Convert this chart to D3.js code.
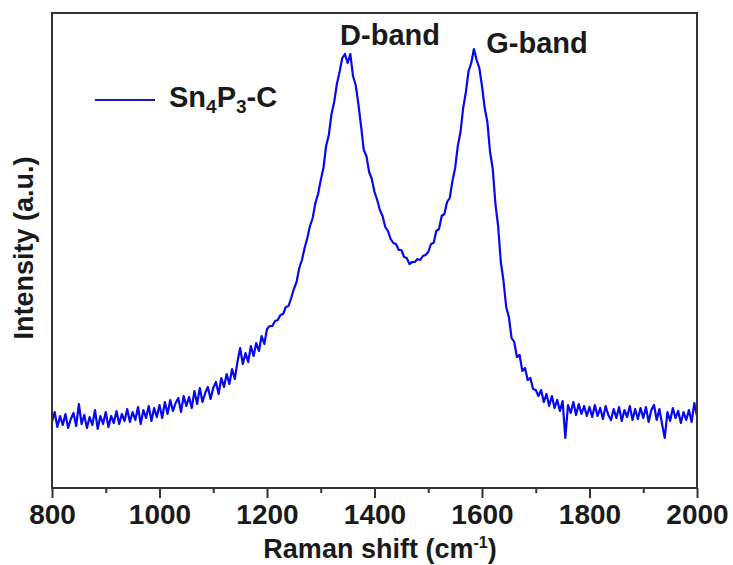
<!DOCTYPE html>
<html>
<head>
<meta charset="utf-8">
<script src="https://cdn.jsdelivr.net/npm/d3@7"></script>
<style>
  body { margin: 0; background: #fff; }
  text { font-family: Arial, "Liberation Sans", sans-serif; font-weight: bold; fill: #1a1a1a; }
</style>
</head>
<body>
<div id="chart"></div>
<script>
// Raman spectrum of Sn4P3-C (step 5 cm-1)
const shiftStart = 800;
const shiftStep = 5;
const intensity = [
  // 800 - 895
  66, 76, 61, 72, 63, 74, 60, 69, 75, 62, 84, 64, 73, 60, 71, 63, 78, 59, 72, 64,
  // 900 - 995
  76, 61, 72, 65, 77, 64, 74, 67, 79, 66, 76, 68, 81, 64, 78, 70, 82, 67, 80, 71,
  // 1000 - 1095
  83, 70, 86, 74, 88, 77, 85, 90, 76, 92, 82, 91, 80, 97, 84, 100, 86, 95, 101, 89,
  // 1100 - 1195
  100, 106, 94, 110, 101, 114, 104, 119, 109, 126, 140, 124, 135, 126, 142, 132, 145, 137, 152, 144,
  // 1200 - 1295
  159, 162, 162, 167, 168, 173, 174, 181, 182, 190, 199, 206, 220, 228, 240, 250, 262, 270, 285, 294,
  // 1300 - 1395
  308, 320, 342, 353, 374, 386, 404, 416, 430, 434, 425, 434, 412, 403, 384, 362, 338, 332, 316, 309,
  // 1400 - 1495
  296, 288, 278, 272, 261, 257, 249, 245, 244, 238, 238, 231, 230, 224, 226, 226, 229, 228, 232, 233,
  // 1500 - 1595
  236, 244, 245, 257, 259, 272, 274, 286, 290, 307, 320, 342, 356, 380, 396, 417, 425, 439, 428, 420,
  // 1600 - 1695
  402, 380, 366, 336, 319, 284, 262, 226, 207, 181, 171, 150, 146, 131, 133, 117, 120, 108, 110, 99,
  // 1700 - 1795
  98, 92, 98, 86, 94, 82, 92, 80, 88, 77, 87, 50, 83, 75, 86, 73, 84, 74, 82, 72,
  // 1800 - 1895
  81, 71, 83, 72, 80, 69, 82, 73, 68, 79, 70, 81, 67, 78, 71, 82, 68, 79, 69, 80,
  // 1900 - 2000
  70, 81, 66, 78, 83, 68, 79, 64, 50, 76, 67, 80, 70, 77, 65, 76, 68, 78, 66, 85, 72
];
const majorTicks = [800, 1000, 1200, 1400, 1600, 1800, 2000];
const minorTicks = [900, 1100, 1300, 1500, 1700, 1900];
const bandLabels = ["D-band", "G-band"];

const width = 733;
const height = 565;
const margin = { left: 52, right: 36, top: 13, bottom: 77 };

const spectrum = intensity.map((v, i) => ({ shift: shiftStart + i * shiftStep, value: v }));

const svg = d3.select("#chart").append("svg")
  .attr("width", width)
  .attr("height", height);

const x = d3.scaleLinear()
  .domain([800, 2000])
  .range([margin.left, width - margin.right]);

const y = d3.scaleLinear()
  .domain([0, 475])
  .range([height - margin.bottom, margin.top]);

// minor ticks first, then major ticks + labels
svg.append("g")
  .attr("transform", `translate(0,${height - margin.bottom})`)
  .call(d3.axisBottom(x).tickValues(minorTicks).tickSize(5).tickFormat(""))
  .call(g => g.select(".domain").remove())
  .selectAll("line").attr("stroke", "#333").attr("stroke-width", 2);

const xAxis = svg.append("g")
  .attr("transform", `translate(0,${height - margin.bottom})`)
  .call(d3.axisBottom(x).tickValues(majorTicks).tickSize(10).tickPadding(6).tickFormat(d3.format("d")));
xAxis.select(".domain").remove();
xAxis.selectAll("line").attr("stroke", "#333").attr("stroke-width", 2);
xAxis.selectAll("text")
  .attr("font-size", 28)
  .attr("font-family", "Arial, 'Liberation Sans', sans-serif")
  .attr("font-weight", "bold")
  .attr("fill", "#1a1a1a");

// spectrum line
const line = d3.line()
  .x(d => x(d.shift))
  .y(d => y(d.value));

svg.append("path")
  .datum(spectrum)
  .attr("fill", "none")
  .attr("stroke", "#0808f0")
  .attr("stroke-width", 2.2)
  .attr("stroke-linejoin", "round")
  .attr("d", line);

// frame
svg.append("rect")
  .attr("x", margin.left)
  .attr("y", margin.top)
  .attr("width", width - margin.left - margin.right)
  .attr("height", height - margin.top - margin.bottom)
  .attr("fill", "none")
  .attr("stroke", "#333")
  .attr("stroke-width", 2);

// axis titles
const xTitle = svg.append("text")
  .attr("x", 380)
  .attr("y", 558)
  .attr("text-anchor", "middle")
  .attr("font-size", 27);
xTitle.append("tspan").text("Raman shift (cm");
xTitle.append("tspan").attr("font-size", 16).attr("dy", -10).text("-1");
xTitle.append("tspan").attr("dy", 10).text(")");

svg.append("text")
  .attr("transform", "translate(33,248) rotate(-90)")
  .attr("text-anchor", "middle")
  .attr("font-size", 27)
  .text("Intensity (a.u.)");

// band labels
svg.append("text")
  .attr("x", 390).attr("y", 45)
  .attr("text-anchor", "middle")
  .attr("font-size", 29)
  .text(bandLabels[0]);

svg.append("text")
  .attr("x", 537).attr("y", 53)
  .attr("text-anchor", "middle")
  .attr("font-size", 29)
  .text(bandLabels[1]);

// legend
svg.append("line")
  .attr("x1", 95).attr("x2", 155)
  .attr("y1", 100).attr("y2", 100)
  .attr("stroke", "#1a1ab0")
  .attr("stroke-width", 2);

const legendText = svg.append("text")
  .attr("x", 169).attr("y", 107)
  .attr("font-size", 29);
legendText.append("tspan").text("Sn");
legendText.append("tspan").attr("font-size", 19).attr("dy", 6).text("4");
legendText.append("tspan").attr("dy", -6).text("P");
legendText.append("tspan").attr("font-size", 19).attr("dy", 6).text("3");
legendText.append("tspan").attr("dy", -6).text("-C");
</script>
</body>
</html>
